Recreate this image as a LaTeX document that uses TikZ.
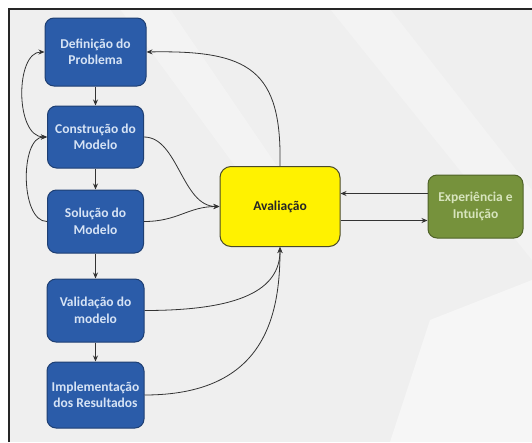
\documentclass[tikz,border=0pt]{standalone}
\usepackage{fontspec}
\setmainfont{Carlito}
\usetikzlibrary{arrows.meta}
\definecolor{bgcol}{HTML}{EFEFEF}
\definecolor{framecol}{HTML}{262626}
\definecolor{boxblue}{HTML}{2B5CA9}
\definecolor{boxblueb}{HTML}{1E3F73}
\definecolor{bluetext}{HTML}{D6E3F5}
\definecolor{boxgreen}{HTML}{76923C}
\definecolor{boxgreenb}{HTML}{4F6228}
\definecolor{greentext}{HTML}{D7E4BD}
\definecolor{yellowb}{HTML}{4A4A2A}
\definecolor{linecol}{HTML}{333333}
\begin{document}
\begin{tikzpicture}[x=1pt,y=-1pt,
  bluebox/.style={draw=boxblueb, line width=1pt, fill=boxblue, rounded corners=9pt,
    text=bluetext, font=\fontsize{13.5}{16.5}\selectfont\bfseries, align=center, inner sep=0pt},
  evalbox/.style={draw=yellowb, line width=1pt, fill=yellow, rounded corners=11pt,
    text=black!85, font=\fontsize{13.5}{16.5}\selectfont\bfseries, align=center,
    minimum width=120pt, minimum height=80pt, inner sep=0pt},
  greenbox/.style={draw=boxgreenb, line width=1pt, fill=boxgreen, rounded corners=9pt,
    text=greentext, font=\fontsize{13.5}{16.5}\selectfont\bfseries, align=center,
    minimum width=95pt, minimum height=63pt, inner sep=0pt},
  conn/.style={draw=linecol, line width=0.8pt, -{Stealth[length=6pt,width=5pt]}},
  conn2/.style={draw=linecol, line width=0.8pt, {Stealth[length=6pt,width=5pt]}-{Stealth[length=6pt,width=5pt]}}
]
\useasboundingbox (0,0) rectangle (532,442);
\fill[bgcol] (9,9) rectangle (532,442);
\fill[white, opacity=0.25] (330,9) -- (390,9) -- (532,190) -- (532,260) -- cycle;
\fill[white, opacity=0.3] (120,9) -- (170,9) -- (300,200) -- (260,200) -- cycle;
\fill[white, opacity=0.45] (390,442) -- (430,320) -- (532,280) -- (532,442) -- cycle;
\draw[framecol, line width=2pt] (9,442) -- (9,9) -- (532,9);

\node[bluebox, minimum width=101pt, minimum height=68pt] (def) at (95.5,52) {Definição do\\Problema};
\node[bluebox, minimum width=96pt, minimum height=62pt] (con) at (95.5,137) {Construção do\\Modelo};
\node[bluebox, minimum width=96pt, minimum height=63pt] (sol) at (95.5,221.5) {Solução do\\Modelo};
\node[bluebox, minimum width=97pt, minimum height=63pt] (val) at (95.5,310.5) {Validação do\\modelo};
\node[bluebox, minimum width=97pt, minimum height=66pt] (imp) at (95.5,395) {Implementação\\dos Resultados};
\node[evalbox] (aval) at (280,206.5) {Avaliação};
\node[greenbox] (exp) at (475.5,206.5) {Experiência e\\Intuição};

\draw[conn] (def) -- (con);
\draw[conn] (con) -- (sol);
\draw[conn] (sol) -- (val);
\draw[conn] (val) -- (imp);

\draw[conn2] (def.west) .. controls (15,52) and (15,137) .. (con.west);
\draw[conn] (sol.west) .. controls (20,221.5) and (20,137) .. (con.west);

\draw[conn] (aval.north) .. controls (282,70) and (250,50) .. (def.east);
\draw[conn] (con.east) .. controls (178,137) and (182,206.5) .. (aval.west);
\draw[conn] (sol.east) .. controls (178,221.5) and (188,206.5) .. (aval.west);
\draw[conn] (val.east) .. controls (240,310.5) and (280,290) .. (aval.south);
\draw[conn] (imp.east) .. controls (262,395) and (280,320) .. (aval.south);

\draw[conn] ([yshift=13pt]exp.west) -- ([yshift=13pt]exp.west -| aval.east);
\draw[conn] ([yshift=-14pt]exp.west -| aval.east) -- ([yshift=-14pt]exp.west);
\end{tikzpicture}
\end{document}
